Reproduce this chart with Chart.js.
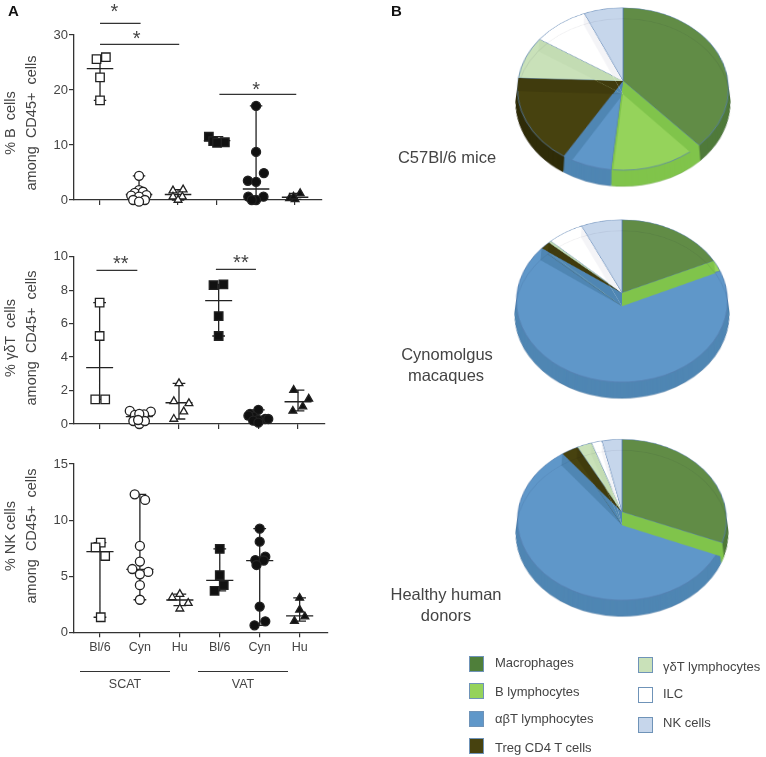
<!DOCTYPE html>
<html>
<head>
<meta charset="utf-8">
<script src="https://cdn.jsdelivr.net/npm/chart.js@4"></script>
<style>
  html, body { margin: 0; padding: 0; background: #fff; overflow: hidden; }
  #page { position: relative; width: 766px; height: 757px; font-family: "Liberation Sans", Arial, sans-serif; color: #444; filter: blur(0.35px); }
  canvas { position: absolute; }
  .t { position: absolute; white-space: nowrap; }
  .rot { position: absolute; white-space: pre; text-align: center; line-height: 21px; font-size: 14.5px; transform: translate(-50%, -50%) rotate(-90deg); }
  .rule { position: absolute; height: 1px; background: #333; }
  .sw { position: absolute; width: 13px; height: 14px; border: 1.5px solid #6f93b8; }
</style>
</head>
<body>
<div id="page"></div>
<script>
// groups on the x axis, same order in all three panels
const groupLabels = ["Bl/6", "Cyn", "Hu", "Bl/6", "Cyn", "Hu"];
const groupStyles = ["rect", "circle", "triangle", "rect", "circle", "triangle"];
const groupFilled = [false, false, false, true, true, true];

// % B cells: median, range, then [jitter, value] per animal
const bMedians = [23.9, 1.0, 1.0, 10.8, 2.0, 0.5];
const bLows = [18.1, 0, 0, 10.4, 0, 0.1];
const bHighs = [25.9, 4.4, 1.9, 11.5, 17.1, 1.2];
const bPoints = [
  [[0.15, 25.96], [-0.09, 25.6], [0, 22.3], [0, 18.1]],
  [[0, 4.4], [0, 1.8], [-0.11, 1.3], [0.1, 1.5], [-0.2, 0.8], [0.19, 0.9], [0, 0.6], [-0.15, 0], [0.15, 0], [0, -0.3]],
  [[0.13, 1.9], [-0.13, 1.7], [-0.13, 0.6], [0.11, 0.6], [0, 0]],
  [[-0.21, 11.5], [-0.1, 10.7], [0.2, 10.5], [0, 10.4]],
  [[0, 17.1], [0, 8.75], [0.2, 4.9], [-0.21, 3.5], [0, 3.3], [-0.2, 0.6], [0.19, 0.6], [0, 0], [-0.11, 0]],
  [[0.13, 1.2], [-0.14, 0.3], [0, 0.1], [-0.04, 0.6]],
];
const bBars = [[1, 2.04, 32.1], [1, 3.03, 28.3], [4.06, 6.03, 19.2]];
const bStars = [["*", 1.37, 34.9], ["*", 1.94, 30], ["*", 5, 20.7]];

// % gamma-delta T cells
const gdMedians = [3.37, 0.44, 1.27, 7.37, 0.28, 1.33];
const gdLows = [1.47, 0, 0.3, 5.26, 0.08, 0.78];
const gdHighs = [7.25, 0.78, 2.43, 8.35, 0.84, 2.03];
const gdPoints = [
  [[0, 7.25], [0, 5.26], [-0.11, 1.47], [0.14, 1.47]],
  [[-0.24, 0.78], [0.29, 0.74], [-0.11, 0.54], [0.12, 0.58], [0, 0.6], [-0.15, 0.18], [0, 0], [0.14, 0.18], [-0.03, 0.24]],
  [[0, 2.43], [-0.13, 1.35], [0.25, 1.23], [0.12, 0.74], [-0.13, 0.3]],
  [[-0.13, 8.3], [0.12, 8.35], [0, 6.45], [0, 5.26]],
  [[0, 0.84], [-0.21, 0.6], [-0.13, 0.44], [-0.25, 0.5], [0.17, 0.3], [0.25, 0.3], [0, 0.24], [-0.13, 0.2], [0, 0.08]],
  [[-0.11, 2.03], [0.27, 1.5], [0.12, 1.04], [-0.13, 0.78]],
];
const gdBars = [[0.92, 1.95, 9.18], [3.93, 4.94, 9.24]];
const gdStars = [["**", 1.53, 9.76], ["**", 4.56, 9.84]];

// % NK cells
const nkMedians = [7.19, 5.6, 2.88, 4.63, 6.39, 1.46];
const nkLows = [1.34, 2.9, 2.38, 3.7, 0.62, 1];
const nkHighs = [8, 12.3, 3.4, 7.43, 9.24, 3.06];
const nkPoints = [
  [[0.02, 8], [-0.11, 7.57], [0.13, 6.8], [0.02, 1.34]],
  [[-0.13, 12.3], [0.13, 11.8], [0, 7.7], [0, 6.3], [-0.19, 5.64], [0.21, 5.38], [0, 5.17], [0, 4.2], [0, 2.9]],
  [[0, 3.4], [-0.19, 3.1], [0.21, 2.6], [0, 2.1]],
  [[0, 7.43], [0, 5.1], [0.1, 4.2], [-0.13, 3.7]],
  [[0, 9.24], [0, 8.08], [0.14, 6.74], [-0.11, 6.44], [0.1, 6.4], [-0.08, 6], [0, 2.29], [0.14, 0.98], [-0.13, 0.62]],
  [[0, 3.06], [0, 2], [0.13, 1.4], [-0.13, 1]],
];

const yTicksB = [0, 10, 20, 30];
const yTicksGd = [0, 2, 4, 6, 8, 10];
const yTicksNk = [0, 5, 10, 15];

// pie shares in percent
const pieLabels = ["Macrophages", "B lymphocytes", "αβT lymphocytes", "Treg CD4 T cells", "γδT lymphocytes", "ILC", "NK cells"];
const mouseShares = [38.3, 13.3, 7, 17, 8.6, 9.2, 6.6];
const macaqueShares = [18.2, 2.3, 64.4, 1.7, 0.4, 6, 6.9];
const humanShares = [31.1, 1.1, 57.2, 2.9, 2.5, 1.8, 3.4];
const pieColors = ["#618c46", "#95d35b", "#5f97c9", "#47420f", "#c9e1b9", "#ffffff", "#c6d6eb"];
const rimColors = ["#4f7a3a", "#80c44b", "#4f86b3", "#2f2c08", "#b9d4a9", "#eeeef3", "#b9c9df"];
const cutColors = ["#558040", "#80c44b", "#4f86b3", "#403b0d", "#c3dcb3", "#f4f4f7", "#bfcfe5"];

const AXIS = "#333";
const page = document.getElementById("page");

function addText(cls, txt, css) {
  const d = document.createElement("div");
  d.className = cls;
  d.textContent = txt;
  d.style.cssText = css;
  page.appendChild(d);
}

function addCanvas(left, top, w, h, extra) {
  const c = document.createElement("canvas");
  c.width = w;
  c.height = h;
  c.style.cssText = `left:${left}px;top:${top}px;width:${w}px;height:${h}px;${extra || ""}`;
  page.appendChild(c);
  return c;
}

// horizontal line at the median, whisker with caps, in x/value units
function statLines(medians, lows, highs, capW, medW) {
  const pts = [];
  const seg = (x0, y0, x1, y1) => pts.push({ x: x0, y: y0 }, { x: x1, y: y1 }, { x: NaN, y: NaN });
  medians.forEach((m, i) => {
    const x = i + 1;
    seg(x - medW, m, x + medW, m);
    seg(x, lows[i], x, highs[i]);
    seg(x - capW, lows[i], x + capW, lows[i]);
    seg(x - capW, highs[i], x + capW, highs[i]);
  });
  return pts;
}

const starPlugin = {
  id: "stars",
  afterDatasetsDraw(chart, args, opts) {
    const { ctx, scales } = chart;
    ctx.save();
    ctx.fillStyle = "#444";
    ctx.font = '20px "Liberation Sans"';
    ctx.textAlign = "center";
    ctx.textBaseline = "middle";
    opts.items.forEach(([s, x, y]) => ctx.fillText(s, scales.x.getPixelForValue(x), scales.y.getPixelForValue(y) + 4));
    ctx.restore();
  },
};

function scatterPanel(p) {
  const canvas = addCanvas(0, p.top, 340, p.height);
  const datasets = [];
  p.points.forEach((grp, i) => {
    datasets.push({
      data: grp.map(([dx, y]) => ({ x: i + 1 + dx, y })),
      pointStyle: groupStyles[i],
      pointRadius: groupStyles[i] === "rect" ? 6 : groupStyles[i] === "circle" ? 4.5 : 4.5,
      pointBackgroundColor: groupFilled[i] ? "#111" : "#fff",
      pointBorderColor: "#222",
      pointBorderWidth: 1.3,
      showLine: false,
      clip: false,
    });
  });
  datasets.push({
    data: statLines(p.medians, p.lows, p.highs, 0.16, 0.34),
    showLine: true,
    spanGaps: false,
    pointRadius: 0,
    borderColor: "#222",
    borderWidth: 1.3,
    clip: false,
  });
  if (p.bars) {
    const barPts = [];
    p.bars.forEach(([x0, x1, y]) => barPts.push({ x: x0, y }, { x: x1, y }, { x: NaN, y: NaN }));
    datasets.push({ data: barPts, showLine: true, spanGaps: false, pointRadius: 0, borderColor: "#333", borderWidth: 1.2, clip: false });
  }
  new Chart(canvas, {
    type: "scatter",
    data: { datasets },
    plugins: [starPlugin],
    options: {
      responsive: false,
      animation: false,
      layout: { padding: { top: p.padTop, right: 340 - p.right, left: 0, bottom: 0 } },
      plugins: { legend: { display: false }, tooltip: { enabled: false }, stars: { items: p.stars || [] } },
      scales: {
        x: {
          type: "linear",
          min: p.xMin,
          max: p.xMax,
          afterFit: (s) => { s.height = p.axisH; },
          afterBuildTicks: (s) => { s.ticks = groupLabels.map((l, i) => ({ value: i + 1 })); },
          grid: { drawOnChartArea: false, tickLength: 5, color: AXIS, lineWidth: 1.2 },
          border: { color: AXIS, width: 1.3 },
          ticks: {
            autoSkip: false,
            maxRotation: 0,
            padding: 3,
            color: "#444",
            font: { family: "Liberation Sans", size: 12.5 },
            callback: (v) => (p.labels ? groupLabels[v - 1] : ""),
          },
        },
        y: {
          min: p.yTicks[0],
          max: p.yTicks[p.yTicks.length - 1],
          afterFit: (s) => { s.width = 74; },
          afterBuildTicks: (s) => { s.ticks = p.yTicks.map((v) => ({ value: v })); },
          grid: { drawOnChartArea: false, tickLength: 5, color: AXIS, lineWidth: 1.2 },
          border: { color: AXIS, width: 1.3 },
          ticks: { padding: 1, color: "#444", font: { family: "Liberation Sans", size: 13 } },
        },
      },
    },
  });
}

scatterPanel({ top: 0, height: 225, padTop: 35, axisH: 25, right: 322, xMin: 0.333, xMax: 6.69, yTicks: yTicksB,
  medians: bMedians, lows: bLows, highs: bHighs, points: bPoints, bars: bBars, stars: bStars });
scatterPanel({ top: 230, height: 220, padTop: 26.7, axisH: 26, right: 325, xMin: 0.354, xMax: 6.68, yTicks: yTicksGd,
  medians: gdMedians, lows: gdLows, highs: gdHighs, points: gdPoints, bars: gdBars, stars: gdStars });
scatterPanel({ top: 440, height: 215, padTop: 24, axisH: 22.7, right: 328, xMin: 0.35, xMax: 6.71, yTicks: yTicksNk,
  medians: nkMedians, lows: nkLows, highs: nkHighs, points: nkPoints, labels: true });

addText("rot", "% B  cells\namong  CD45+  cells", "left:21px;top:123px");
addText("rot", "% γδT  cells\namong  CD45+  cells", "left:21px;top:338px");
addText("rot", "% NK cells\namong  CD45+  cells", "left:21px;top:536px");

addText("t", "A", "left:8px;top:2px;font:bold 15px 'Liberation Sans';color:#111");
addText("t", "B", "left:391px;top:2px;font:bold 15px 'Liberation Sans';color:#111");

const ruleDefs = [[80, 170, "SCAT", 125], [198, 288, "VAT", 243]];
ruleDefs.forEach(([x0, x1, name, cx]) => {
  addText("rule", "", `left:${x0}px;top:671px;width:${x1 - x0}px`);
  addText("t", name, `left:${cx}px;top:677px;transform:translateX(-50%);font-size:12.5px`);
});

// extruded look: darker copies of the arcs below the top face, then the cut faces on top of it
const DEPTH = 17;
const extrude = {
  id: "extrude",
  beforeDatasetsDraw(chart) {
    const { ctx } = chart;
    const arcs = chart.getDatasetMeta(0).data;
    for (let dy = DEPTH; dy > 0; dy--) {
      ctx.save();
      ctx.translate(0, dy);
      arcs.forEach((a, i) => {
        const o = a.options;
        a.options = { ...o, backgroundColor: rimColors[i], borderColor: rimColors[i], borderWidth: 0 };
        a.draw(ctx);
        a.options = o;
      });
      ctx.restore();
    }
  },
  afterDatasetsDraw(chart) {
    const { ctx } = chart;
    const arcs = chart.getDatasetMeta(0).data;
    const up = -Math.PI / 2;
    arcs.forEach((a, i) => {
      const th0 = a.startAngle - up;
      const th1 = a.endAngle - up;
      const wall = (ang, clipped) => {
        const ex = a.x + a.outerRadius * Math.cos(ang);
        const ey = a.y + a.outerRadius * Math.sin(ang);
        ctx.save();
        if (clipped) {
          // stays inside its own slice, plus the overhang at the rim
          ctx.beginPath();
          ctx.moveTo(a.x, a.y);
          ctx.arc(a.x, a.y, a.outerRadius, a.startAngle, a.endAngle);
          ctx.closePath();
          ctx.moveTo(a.x, a.y + DEPTH);
          ctx.arc(a.x, a.y + DEPTH, a.outerRadius, a.startAngle, a.endAngle);
          ctx.closePath();
          ctx.clip();
        }
        ctx.beginPath();
        ctx.moveTo(a.x, a.y);
        ctx.lineTo(ex, ey);
        ctx.lineTo(ex, ey + DEPTH);
        ctx.lineTo(a.x, a.y + DEPTH);
        ctx.closePath();
        ctx.fillStyle = cutColors[i];
        ctx.fill();
        ctx.restore();
      };
      if (th0 > 0.01 && th0 < Math.PI && i !== 2) wall(a.startAngle, false);
      if (th1 > Math.PI && th1 < 2 * Math.PI - 0.01) wall(a.endAngle, true);
    });
    arcs.forEach((a) => {
      ctx.beginPath();
      ctx.arc(a.x, a.y + DEPTH, a.outerRadius, a.startAngle, a.endAngle);
      ctx.strokeStyle = "rgba(0,0,40,0.08)";
      ctx.lineWidth = 1;
      ctx.stroke();
    });
  },
};

function pie3d(shares, cx, cy, r) {
  const size = 300;
  const canvas = addCanvas(cx - size / 2, cy - size / 2, size, size,
    "transform:perspective(686px) rotateX(40deg);transform-origin:50% 50%;");
  new Chart(canvas, {
    type: "pie",
    data: {
      labels: pieLabels,
      datasets: [{
        data: shares,
        backgroundColor: pieColors,
        borderColor: "rgba(85,125,175,0.75)",
        borderWidth: 1,
        radius: r,
      }],
    },
    plugins: [extrude],
    options: {
      responsive: false,
      animation: false,
      plugins: { legend: { display: false }, tooltip: { enabled: false } },
    },
  });
}

pie3d(mouseShares, 623, 81, 105);
pie3d(macaqueShares, 622, 293, 105);
pie3d(humanShares, 622, 512, 104);

const pieNames = [
  ["C57Bl/6 mice", 447, 157],
  ["Cynomolgus", 447, 354],
  ["macaques", 446, 375],
  ["Healthy human", 446, 594],
  ["donors", 446, 615],
];
pieNames.forEach(([s, x, y]) => addText("t", s, `left:${x}px;top:${y}px;transform:translate(-50%,-50%);font-size:16.5px`));

// legend, two columns
const legendLeft = [[0, 656, 662], [1, 683, 691], [2, 711, 718], [3, 738, 747]];
const legendRight = [[4, 657, 666], [5, 687, 693], [6, 717, 722]];
function legendCol(rows, swX, txtX) {
  rows.forEach(([i, swY, txtY]) => {
    addText("sw", "", `left:${swX}px;top:${swY}px;background:${i === 0 ? "#4f7f3a" : pieColors[i]}`);
    addText("t", pieLabels[i], `left:${txtX}px;top:${txtY}px;transform:translateY(-50%);font-size:13px`);
  });
}
legendCol(legendLeft, 469, 495);
legendCol(legendRight, 638, 663);
</script>
</body>
</html>
